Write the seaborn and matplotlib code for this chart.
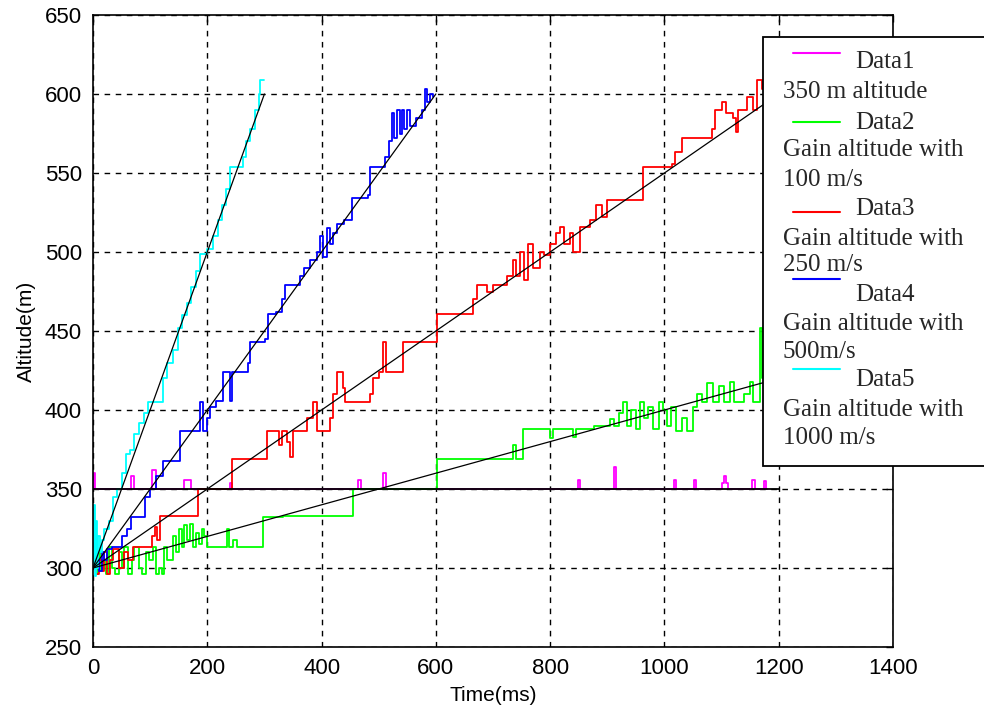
import pandas as pd
import matplotlib
matplotlib.use("Agg")
import matplotlib.pyplot as plt
from matplotlib.patches import Rectangle
from matplotlib.lines import Line2D
import seaborn as sns

# staircase readings (time ms, altitude m)
data1_t = [0, 1, 4, 66, 72, 104, 110, 160, 172, 240, 244, 463, 469, 508, 513, 848, 852, 912, 916,
           1016, 1020, 1052, 1056, 1100, 1104, 1108, 1112, 1154, 1158, 1174, 1178, 1180]
data1_alt = [350, 360, 350, 358, 350, 362, 350, 356, 350, 354, 350, 356, 350, 360, 350, 356, 350, 364, 350,
             356, 350, 356, 350, 354, 358, 354, 350, 356, 350, 355, 350, 350]

data2_t = [0, 3, 5, 8, 12, 18, 22, 28, 33, 38, 45, 50, 55, 62, 68, 72, 80, 85, 92, 98, 105, 110, 115, 120,
           125, 130, 140, 145, 150, 155, 160, 165, 170, 175, 180, 185, 190, 195, 200, 234, 238, 245, 252,
           298, 333, 455, 602, 735, 740, 753, 800, 805, 840, 845, 876, 905, 912, 920, 927, 935, 942, 950,
           958, 965, 972, 980, 990, 997, 1005, 1012, 1020, 1030, 1040, 1050, 1057, 1065, 1075, 1085,
           1095, 1105, 1115, 1122, 1140, 1150, 1155, 1168, 1170, 1175]
data2_alt = [300, 320, 296, 310, 298, 305, 296, 313, 300, 296, 310, 300, 313, 296, 305, 313, 300, 296, 310,
             305, 313, 296, 300, 296, 313, 305, 320, 310, 325, 313, 327, 318, 328, 313, 322, 315, 325, 320,
             313, 325, 313, 318, 313, 332, 333, 350, 369, 378, 369, 388, 382, 388, 383, 388, 390, 394, 390,
             398, 405, 390, 400, 388, 405, 395, 402, 388, 405, 400, 390, 402, 387, 395, 387, 402, 410, 405,
             417, 405, 415, 405, 418, 405, 410, 418, 405, 452, 420, 405]

data3_t = [0, 5, 10, 15, 20, 25, 30, 35, 45, 55, 62, 70, 103, 108, 112, 117, 184, 243, 305, 325, 330, 340,
           345, 350, 375, 385, 392, 415, 420, 427, 437, 441, 484, 490, 500, 508, 512, 542, 602, 665, 672,
           690, 700, 724, 735, 740, 748, 755, 762, 770, 782, 790, 800, 810, 817, 825, 835, 840, 852, 870,
           880, 890, 900, 927, 962, 1013, 1018, 1031, 1083, 1089, 1100, 1108, 1120, 1125, 1129, 1145,
           1155, 1162, 1171, 1178]
data3_alt = [300, 296, 305, 298, 310, 296, 305, 312, 300, 310, 305, 313, 320, 326, 318, 333, 350, 369, 387,
             378, 387, 380, 370, 387, 395, 405, 387, 395, 410, 424, 414, 405, 410, 420, 424, 443, 424, 443,
             461, 470, 479, 475, 479, 485, 495, 485, 500, 482, 505, 490, 500, 498, 505, 512, 516, 505, 512,
             500, 516, 520, 530, 522, 533, 533, 554, 556, 563, 572, 578, 590, 595, 588, 585, 576, 590, 598,
             590, 609, 603, 600]

data4_t = [0, 5, 10, 15, 20, 25, 33, 51, 60, 66, 91, 100, 110, 122, 152, 175, 187, 193, 200, 205, 215,
           228, 240, 243, 271, 275, 301, 306, 320, 331, 336, 362, 370, 380, 392, 398, 403, 410, 415, 420,
           427, 440, 453, 481, 485, 511, 518, 523, 527, 532, 537, 541, 545, 550, 555, 565, 575, 581, 585,
           590, 595]
data4_alt = [300, 305, 298, 310, 305, 312, 313, 320, 325, 332, 345, 350, 358, 368, 387, 387, 405, 387, 395,
             402, 406, 424, 406, 424, 430, 443, 445, 461, 462, 470, 479, 485, 490, 495, 500, 510, 497, 515,
             505, 512, 518, 520, 534, 536, 554, 560, 570, 588, 572, 590, 575, 590, 578, 590, 580, 585, 590,
             603, 595, 600, 598]

data5_t = [0, 2, 3, 5, 7, 9, 12, 15, 20, 28, 35, 42, 50, 58, 65, 72, 80, 90, 96, 123, 130, 140, 148, 155,
           165, 172, 180, 187, 200, 210, 218, 225, 232, 240, 262, 268, 275, 283, 290, 292, 300]
data5_alt = [300, 340, 295, 330, 300, 320, 310, 318, 325, 330, 345, 350, 360, 372, 375, 385, 392, 398, 405,
             420, 430, 438, 452, 460, 468, 478, 488, 499, 502, 510, 520, 530, 540, 554, 560, 570, 578, 590,
             600, 609, 609]

# reference lines
ref_t = [0, 1200]
ref_alt = [350, 350]
fit_end_t = [300, 600, 1200, 1200]
fit_end_alt = [600, 600, 600, 420]

names = ["Data1", "Data2", "Data3", "Data4", "Data5"]
descs = ["350 m altitude", "Gain altitude with\n100 m/s", "Gain altitude with\n250 m/s",
         "Gain altitude with\n500m/s", "Gain altitude with\n1000 m/s"]
colors = ["#ff00ff", "#00ff00", "#ff0000", "#0000ff", "#00ffff"]

series = [(data1_t, data1_alt), (data2_t, data2_alt), (data3_t, data3_alt),
          (data4_t, data4_alt), (data5_t, data5_alt)]
frames = []
for name, (t, a) in zip(names, series):
    frames.append(pd.DataFrame({"t": t, "alt": a, "series": name}))
df = pd.concat(frames, ignore_index=True)

sns.set_theme(style="white")
plt.rcParams["font.family"] = ["Liberation Sans", "DejaVu Sans"]

W, H = 984, 715
fig = plt.figure(figsize=(W / 100, H / 100), dpi=100)
ax = fig.add_axes([93 / W, 1 - 647 / H, 800 / W, 632 / H])

sns.lineplot(data=df, x="t", y="alt", hue="series", palette=dict(zip(names, colors)),
             estimator=None, sort=False, drawstyle="steps-post", linewidth=1.3,
             legend=False, ax=ax)

ax.plot(ref_t, ref_alt, color="black", linewidth=1.3, zorder=5)
for te, ae in zip(fit_end_t, fit_end_alt):
    ax.plot([0, te], [300, ae], color="black", linewidth=0.9, zorder=5)

ax.set_xlim(0, 1400)
ax.set_ylim(250, 650)
ax.set_xticks(range(0, 1401, 200))
ax.set_yticks(range(250, 651, 50))
ax.grid(True, color="black", linestyle=(0, (4, 4)), linewidth=1)
ax.set_axisbelow(True)
ax.tick_params(direction="in", top=True, right=True, length=5, width=1,
               labelsize=16, color="black", labelcolor="black", pad=8)
for s in ax.spines.values():
    s.set_color("black")
    s.set_linewidth(1.2)
ax.set_xlabel("Time(ms)", fontsize=15, color="black", labelpad=5)
ax.set_ylabel("Altitude(m)", fontsize=15, color="black", labelpad=6)

# hand-made legend box, as in the original figure
fig.patches.append(Rectangle((763 / W, 1 - 466 / H), 0.3, (466 - 37) / H, transform=fig.transFigure,
                             facecolor="white", edgecolor="black", linewidth=1.3, zorder=10))
row_y = [62, 92, 123, 150, 180, 209, 239, 265, 295, 324, 352, 380, 410, 438]
line_y = [53, 122, 212, 279, 369]
r = 0
for i, (name, desc) in enumerate(zip(names, descs)):
    fig.text(855 / W, 1 - row_y[r] / H, name, fontsize=18, family=["Liberation Serif"],
             va="center", ha="left", zorder=11)
    fig.lines.append(Line2D([793 / W, 840 / W], [1 - line_y[i] / H] * 2, transform=fig.transFigure,
                            color=colors[i], linewidth=1.5, zorder=11))
    r += 1
    for part in desc.split("\n"):
        fig.text(783 / W, 1 - row_y[r] / H, part, fontsize=18, family=["Liberation Serif"],
                 va="center", ha="left", zorder=11)
        r += 1

fig.savefig("out.png", dpi=100)
